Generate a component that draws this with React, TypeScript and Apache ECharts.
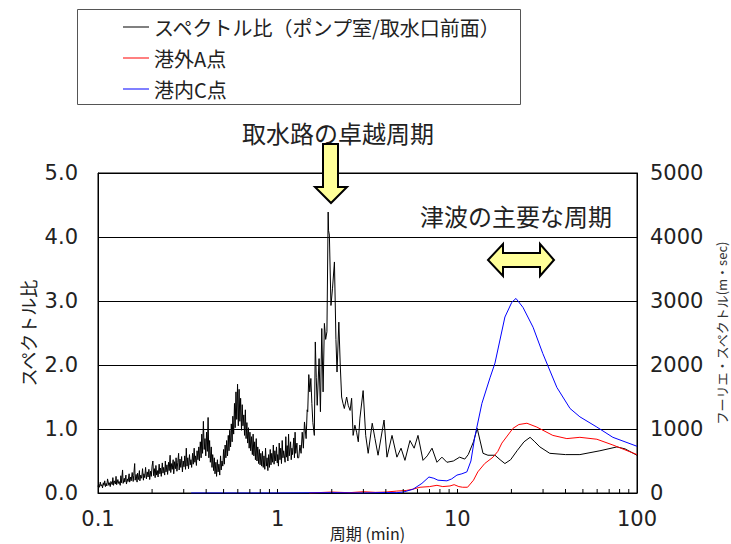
import React, { useEffect, useRef } from "react";
import * as echarts from "echarts";

// Spectral ratio (pump room / intake front), short-period band
const shortPeriods: number[] = [
  0.100, 0.101, 0.102, 0.103, 0.104, 0.105, 0.106, 0.107, 0.108, 0.109,
  0.110, 0.111, 0.112, 0.113, 0.115, 0.116, 0.117, 0.118, 0.120, 0.121,
  0.122, 0.123, 0.125, 0.126, 0.127, 0.129, 0.130, 0.131, 0.133, 0.134,
  0.135, 0.137, 0.138, 0.140, 0.141, 0.143, 0.144, 0.146, 0.147, 0.149,
  0.150, 0.152, 0.153, 0.155, 0.157, 0.158, 0.160, 0.161, 0.163, 0.165,
  0.166, 0.168, 0.170, 0.171, 0.173, 0.175, 0.177, 0.179, 0.180, 0.182,
  0.184, 0.186, 0.188, 0.190, 0.192, 0.194, 0.196, 0.198, 0.200, 0.202,
  0.204, 0.206, 0.208, 0.210, 0.212, 0.214, 0.216, 0.219, 0.221, 0.223,
  0.225, 0.228, 0.230, 0.232, 0.235, 0.237, 0.239, 0.242, 0.244, 0.247,
  0.249, 0.252, 0.254, 0.257, 0.259, 0.262, 0.264, 0.267, 0.270, 0.272,
  0.275, 0.278, 0.281, 0.283, 0.286, 0.289, 0.292, 0.295, 0.298, 0.301,
  0.304, 0.307, 0.310, 0.313, 0.316, 0.319, 0.323, 0.326, 0.329, 0.332,
  0.336, 0.339, 0.343, 0.346, 0.349, 0.353, 0.356, 0.360, 0.364, 0.367,
  0.371, 0.375, 0.378, 0.382, 0.386, 0.390, 0.394, 0.398, 0.402, 0.406,
  0.410, 0.414, 0.418, 0.422, 0.427, 0.431, 0.435, 0.440, 0.444, 0.448,
  0.453, 0.457, 0.462, 0.466, 0.471, 0.476, 0.481, 0.485, 0.490, 0.495,
  0.500, 0.505, 0.510, 0.515, 0.520, 0.526, 0.531, 0.536, 0.541, 0.547,
  0.552, 0.558, 0.563, 0.569, 0.575, 0.580, 0.586, 0.592, 0.598, 0.604,
  0.610, 0.616, 0.622, 0.629, 0.635, 0.641, 0.648, 0.654, 0.661, 0.667,
  0.674, 0.681, 0.688, 0.694, 0.701, 0.708, 0.715, 0.723, 0.730, 0.737,
  0.745, 0.752, 0.760, 0.767, 0.775, 0.783, 0.791, 0.798, 0.806, 0.815,
  0.823, 0.831, 0.839, 0.848, 0.856, 0.865, 0.873, 0.882, 0.891, 0.900,
  0.909, 0.918, 0.927, 0.937, 0.946, 0.955, 0.965, 0.975, 0.985, 0.995,
  1.00, 1.01, 1.02, 1.03, 1.04, 1.05, 1.06, 1.07, 1.08, 1.10,
  1.11, 1.12, 1.13, 1.14, 1.15, 1.16, 1.18, 1.19, 1.20, 1.21,
  1.23, 1.24, 1.25, 1.26, 1.28, 1.29,
];
const shortRatios: number[] = [
  0.10, 0.14, 0.09, 0.17, 0.11, 0.13, 0.08, 0.16, 0.12, 0.19,
  0.10, 0.15, 0.11, 0.22, 0.12, 0.16, 0.10, 0.18, 0.13, 0.24,
  0.12, 0.19, 0.14, 0.26, 0.13, 0.21, 0.15, 0.18, 0.12, 0.27,
  0.16, 0.36, 0.15, 0.23, 0.17, 0.28, 0.14, 0.22, 0.18, 0.30,
  0.17, 0.25, 0.19, 0.32, 0.18, 0.27, 0.46, 0.20, 0.29, 0.17,
  0.31, 0.21, 0.35, 0.19, 0.28, 0.23, 0.38, 0.20, 0.30, 0.24,
  0.40, 0.22, 0.33, 0.25, 0.37, 0.21, 0.34, 0.26, 0.42, 0.50,
  0.27, 0.38, 0.24, 0.43, 0.28, 0.35, 0.25, 0.45, 0.30, 0.39,
  0.26, 0.47, 0.31, 0.40, 0.28, 0.50, 0.33, 0.44, 0.29, 0.48,
  0.35, 0.59, 0.32, 0.46, 0.37, 0.52, 0.30, 0.49, 0.38, 0.55,
  0.34, 0.48, 0.62, 0.36, 0.53, 0.40, 0.57, 0.33, 0.50, 0.41,
  0.58, 0.37, 0.70, 0.42, 0.55, 0.38, 0.60, 0.44, 0.52, 0.40,
  0.62, 0.45, 0.70, 0.48, 0.58, 0.43, 0.66, 0.52, 0.72, 0.50,
  0.80, 0.55, 0.92, 0.62, 1.12, 0.68, 0.85, 0.58, 0.95, 0.65,
  1.18, 0.55, 0.82, 0.48, 0.72, 0.40, 0.60, 0.35, 0.55, 0.30,
  0.48, 0.26, 0.52, 0.33, 0.45, 0.28, 0.58, 0.36, 0.50, 0.42,
  0.68, 0.45, 0.75, 0.55, 0.82, 0.58, 0.90, 0.66, 0.98, 0.72,
  1.08, 0.80, 1.20, 0.92, 1.40, 1.02, 1.58, 1.15, 1.70, 1.05,
  1.62, 1.12, 1.48, 0.98, 1.38, 1.05, 1.22, 0.90, 1.30, 0.85,
  1.10, 0.78, 1.02, 0.70, 0.95, 0.66, 0.88, 0.60, 0.92, 0.58,
  0.80, 0.52, 0.85, 0.50, 0.72, 0.46, 0.68, 0.44, 0.62, 0.42,
  0.65, 0.40, 0.58, 0.37, 0.70, 0.42, 0.55, 0.35, 0.60, 0.40,
  0.68, 0.44, 0.62, 0.48, 0.75, 0.45, 0.66, 0.50, 0.72, 0.47,
  0.60, 0.42, 0.78, 0.52, 0.70, 0.46, 0.82, 0.55, 0.66, 0.48,
  0.88, 0.56, 0.74, 0.50, 0.92, 0.58, 0.80, 0.52, 0.70, 0.60,
  0.86, 0.55, 0.95, 0.62, 0.78, 0.55,
];

// Spectral ratio around the intake channel's dominant period: [period(min), ratio]
const ratioPeak: [number, number][] = [
  [1.31, 0.55], [1.33, 0.75], [1.35, 0.62], [1.37, 0.95], [1.39, 0.70], [1.41, 1.11], [1.44, 0.85], [1.46, 1.30], [1.47, 1.27], [1.49, 1.85],
  [1.51, 1.58], [1.53, 1.79], [1.55, 1.40], [1.57, 1.10], [1.60, 0.90], [1.62, 2.36], [1.64, 1.80], [1.66, 1.37], [1.70, 2.10], [1.73, 1.27],
  [1.76, 2.57], [1.79, 1.58], [1.82, 2.65], [1.85, 2.40], [1.88, 2.52], [1.91, 4.39], [1.92, 4.10], [1.94, 4.03], [1.98, 2.93], [2.02, 3.20],
  [2.07, 3.61], [2.11, 2.40], [2.14, 1.89], [2.19, 2.67], [2.23, 2.00], [2.27, 1.50], [2.31, 1.40], [2.35, 1.32], [2.42, 1.50], [2.47, 1.37],
  [2.53, 1.29], [2.58, 1.48], [2.63, 0.90], [2.69, 1.06], [2.75, 0.95], [2.81, 0.80], [2.87, 1.17], [2.99, 1.60], [3.09, 0.90], [3.19, 0.62],
  [3.36, 1.09], [3.48, 0.85],
];

// Spectral ratio, long-period band
const ratioLong: [number, number][] = [
  [3.62, 0.59], [3.91, 1.14], [4.06, 0.56], [4.33, 0.90], [4.61, 0.56], [4.86, 0.70], [5.11, 0.51], [5.45, 0.82], [5.75, 0.70], [6.04, 0.90],
  [6.44, 0.51], [6.80, 0.58], [7.23, 0.70], [7.70, 0.48], [8.21, 0.56], [8.75, 0.48], [9.50, 0.50], [10.3, 0.56], [11.0, 0.53], [11.5, 0.60],
  [12.3, 0.80], [12.9, 1.01], [13.9, 0.62], [14.8, 0.59], [16.2, 0.59], [17.3, 0.52], [18.4, 0.46], [19.8, 0.52], [21.5, 0.66], [23.5, 0.80],
  [25.4, 0.87], [27.0, 0.80], [28.8, 0.72], [32.7, 0.62], [40.0, 0.60], [48.1, 0.60], [62.2, 0.66], [77.3, 0.72], [85.7, 0.69], [100, 0.59],
];

// Fourier spectrum outside the harbour, point A: [period(min), m·sec]
const fourierA: [number, number][] = [
  [1.5, 0], [2.0, 15], [2.5, 5], [3.0, 20], [3.5, 10], [4.0, 15], [4.6, 30], [5.2, 40], [5.66, 60], [6.2, 90],
  [7.0, 100], [7.7, 120], [8.3, 100], [9.1, 110], [9.6, 130], [10.2, 100], [10.7, 90], [11.4, 90], [12.3, 200], [13.0, 330],
  [14.2, 460], [15.8, 560], [16.8, 650], [17.7, 780], [20.4, 1010], [22.0, 1070], [24.4, 1090], [27.7, 1030], [34.0, 900], [40.7, 850],
  [48.1, 870], [59.8, 840], [73.4, 750], [100, 600],
];

// Fourier spectrum inside the harbour, point C
const fourierC: [number, number][] = [
  [0.33, 0], [1.0, 0], [2.0, 5], [3.0, 0], [4.0, 8], [4.6, 5], [5.0, 15], [5.66, 58], [6.35, 150], [6.95, 250],
  [7.4, 230], [7.8, 200], [8.75, 190], [9.3, 220], [9.95, 280], [10.6, 300], [11.3, 330], [11.9, 500], [12.5, 870], [13.7, 1400],
  [15.2, 1800], [16.2, 2030], [18.4, 2750], [20.1, 2980], [21.2, 3040], [23.2, 2900], [26.4, 2590], [29.9, 2180], [35.8, 1650], [42.4, 1320],
  [48.1, 1190], [59.8, 1030], [73.4, 870], [100, 730],
];

// Minor tick positions on the logarithmic period axis
const minorTicks: number[] = [
  0.2, 0.3, 0.4, 0.5, 0.6, 0.7, 0.8, 0.9,
  2, 3, 4, 5, 6, 7, 8, 9,
  20, 30, 40, 50, 60, 70, 80, 90,
];

const seriesNames = ["スペクトル比（ポンプ室/取水口前面）", "港外A点", "港内C点"];

const NUM_FONT = "'DejaVu Sans', 'Noto Sans CJK JP', sans-serif";
const JP_FONT = "'Noto Sans CJK JP', 'DejaVu Sans', sans-serif";

export default function App() {
  const ref = useRef<HTMLDivElement>(null);

  useEffect(() => {
    document.body.style.margin = "0";
    const chart = echarts.init(ref.current!, null, { renderer: "svg" });

    const ratioShort: [number, number][] = shortPeriods.map((p, i) => [p, shortRatios[i]]);

    const option: any = {
      animation: false,
      backgroundColor: "#fff",
      grid: {
        left: 98,
        right: 94,
        top: 173,
        bottom: 51,
        containLabel: false,
        outerBoundsMode: "none",
        show: true,
        borderColor: "#000",
        borderWidth: 1,
        backgroundColor: "transparent",
      },
      legend: {
        data: seriesNames,
        orient: "vertical",
        left: 123,
        top: 16,
        padding: 0,
        icon: "rect",
        itemWidth: 26,
        itemHeight: 1,
        itemGap: 9,
        textStyle: { fontSize: 20, fontFamily: JP_FONT, color: "#222", lineHeight: 22 },
      },
      xAxis: {
        type: "log",
        logBase: 10,
        min: 0.1,
        max: 100,
        name: "周期 (min)",
        nameLocation: "middle",
        nameGap: 31,
        nameMoveOverlap: false,
        nameTextStyle: { fontSize: 16, fontFamily: JP_FONT, color: "#222", lineHeight: 18 },
        axisLine: { show: true, lineStyle: { color: "#000", width: 1 } },
        axisTick: { show: true, inside: true, length: 4, lineStyle: { color: "#000" } },
        axisLabel: { fontSize: 21, fontFamily: NUM_FONT, color: "#222", margin: 15 },
        splitLine: { show: false },
      },
      yAxis: [
        {
          type: "value",
          min: 0,
          max: 5,
          interval: 1,
          name: "スペクトル比",
          nameLocation: "middle",
          nameGap: 61,
          nameRotate: 90,
          nameMoveOverlap: false,
          nameTextStyle: { fontSize: 18, fontFamily: JP_FONT, color: "#222" },
          axisLine: { show: true, lineStyle: { color: "#000" } },
          axisTick: { show: false },
          axisLabel: {
            fontSize: 21,
            fontFamily: NUM_FONT,
            color: "#222",
            margin: 20,
            formatter: (v: number) => v.toFixed(1),
          },
          splitLine: { show: true, lineStyle: { color: "#000", width: 1 } },
        },
        {
          type: "value",
          min: 0,
          max: 5000,
          interval: 1000,
          position: "right",
          name: "フーリエ・スペクトル(m・sec)",
          nameLocation: "middle",
          nameGap: 78,
          nameRotate: 90,
          nameMoveOverlap: false,
          nameTextStyle: { fontSize: 13, fontFamily: JP_FONT, color: "#333" },
          axisLine: { show: true, lineStyle: { color: "#000" } },
          axisTick: { show: false },
          axisLabel: {
            fontSize: 21,
            fontFamily: NUM_FONT,
            color: "#222",
            margin: 13,
            formatter: (v: number) => String(v),
          },
          splitLine: { show: false },
        },
      ],
      series: [
        {
          name: seriesNames[0],
          type: "line",
          yAxisIndex: 0,
          data: [...ratioShort, ...ratioPeak, ...ratioLong],
          symbol: "none",
          lineStyle: { color: "#000", width: 1 },
          itemStyle: { color: "#000" },
          z: 3,
        },
        {
          name: seriesNames[1],
          type: "line",
          yAxisIndex: 1,
          data: fourierA,
          symbol: "none",
          lineStyle: { color: "#ff0000", width: 1 },
          itemStyle: { color: "#ff0000" },
          z: 4,
        },
        {
          name: seriesNames[2],
          type: "line",
          yAxisIndex: 1,
          data: fourierC,
          symbol: "none",
          lineStyle: { color: "#0000ff", width: 1 },
          itemStyle: { color: "#0000ff" },
          z: 4,
        },
        {
          type: "custom",
          xAxisIndex: 0,
          yAxisIndex: 0,
          silent: true,
          z: 5,
          data: minorTicks.map((p) => [p, 0]),
          renderItem: (_params: any, api: any) => {
            const pt = api.coord([api.value(0), 0]);
            return {
              type: "line",
              shape: { x1: pt[0], y1: pt[1], x2: pt[0], y2: pt[1] - 4 },
              style: { stroke: "#000", lineWidth: 1 },
            };
          },
        },
      ],
      graphic: [
        {
          type: "rect",
          shape: { x: 77.5, y: 9.5, width: 443, height: 95 },
          style: { fill: "none", stroke: "#555", lineWidth: 1 },
          z: 1,
        },
        {
          type: "text",
          x: 338,
          y: 132,
          style: {
            text: "取水路の卓越周期",
            fontSize: 24,
            fontFamily: JP_FONT,
            fill: "#222",
            align: "center",
            verticalAlign: "middle",
          },
          z: 100,
        },
        {
          type: "polygon",
          shape: {
            points: [[323, 144], [338, 144], [338, 187], [347, 187], [331, 203], [315, 187], [323, 187]],
          },
          style: { fill: "#ffff99", stroke: "#000", lineWidth: 2, lineJoin: "miter" },
          z: 100,
        },
        {
          type: "text",
          x: 516,
          y: 215,
          style: {
            text: "津波の主要な周期",
            fontSize: 24,
            fontFamily: JP_FONT,
            fill: "#222",
            align: "center",
            verticalAlign: "middle",
          },
          z: 100,
        },
        {
          type: "polygon",
          shape: {
            points: [
              [488, 260], [503, 244], [503, 253], [540, 253], [540, 244], [554, 260],
              [540, 276], [540, 267], [503, 267], [503, 276],
            ],
          },
          style: { fill: "#ffff99", stroke: "#000", lineWidth: 2, lineJoin: "miter" },
          z: 100,
        },
      ],
    };

    chart.setOption(option);
    return () => chart.dispose();
  }, []);

  return <div ref={ref} style={{ width: 731, height: 544 }} />;
}
